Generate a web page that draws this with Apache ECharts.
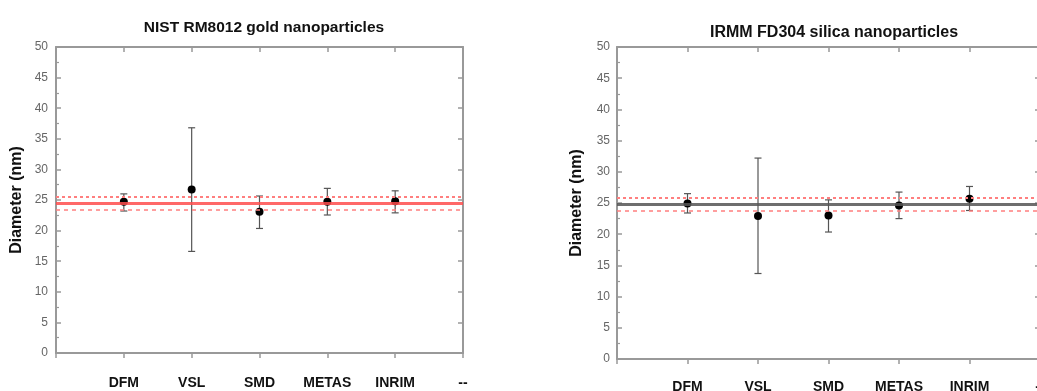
<!DOCTYPE html>
<html>
<head>
<meta charset="utf-8">
<script src="https://cdn.jsdelivr.net/npm/echarts@6/dist/echarts.min.js"></script>
<style>html,body{margin:0;padding:0;background:#fff}#c{width:1037px;height:391px}</style>
</head>
<body>
<div id="c"></div>
<script>
// ---- data ----
const categories = ['DFM', 'VSL', 'SMD', 'METAS', 'INRIM', '--'];
const titles = ['NIST RM8012 gold nanoparticles', 'IRMM FD304 silica nanoparticles'];
const yTicks = [0, 5, 10, 15, 20, 25, 30, 35, 40, 45, 50];

// NIST RM8012 gold
const goldMean = [24.7, 26.7, 23.1, 24.7, 24.8];
const goldLow  = [23.2, 16.6, 20.35, 22.55, 22.9];
const goldHigh = [26.0, 36.8, 25.65, 26.9, 26.5];
const goldRef = [24.45, 23.45, 25.55]; // reference, lower, upper

// IRMM FD304 silica
const silicaMean = [24.9, 22.9, 23.0, 24.6, 25.7];
const silicaLow  = [23.4, 13.7, 20.35, 22.5, 23.8];
const silicaHigh = [26.5, 32.2, 25.5, 26.75, 27.65];
const silicaRef = [24.8, 23.8, 25.8];

// ---- build ----
const chart = echarts.init(document.getElementById('c'));
const frameColor = '#999';
const labelFont = 'Liberation Sans, Arial, sans-serif';

function axesFor(gi, labelMargin, catMargin, nameGap) {
  const line = {show: true, onZero: false, lineStyle: {color: frameColor, width: 2}};
  const x = [{
    gridIndex: gi, type: 'value', min: 0, max: 6, interval: 1, position: 'bottom',
    axisLine: line,
    axisTick: {show: true, inside: false, length: 5, lineStyle: {color: frameColor, width: 1.5}},
    splitLine: {show: false},
    axisLabel: {
      margin: catMargin, color: '#111', fontWeight: 'bold', fontSize: 14, fontFamily: labelFont,
      formatter: v => (v >= 1 && v <= categories.length) ? categories[v - 1] : ''
    }
  }, {
    gridIndex: gi, type: 'value', min: 0, max: 6, interval: 1, position: 'top',
    axisLine: line,
    axisTick: {show: true, inside: true, length: 5, lineStyle: {color: frameColor, width: 1.5}},
    splitLine: {show: false}, axisLabel: {show: false}
  }];
  const y = [{
    gridIndex: gi, type: 'value', min: yTicks[0], max: yTicks[yTicks.length - 1], interval: yTicks[1] - yTicks[0],
    position: 'left',
    name: 'Diameter (nm)', nameLocation: 'middle', nameGap: nameGap,
    nameTextStyle: {color: '#111', fontWeight: 'bold', fontSize: 16, fontFamily: labelFont},
    axisLine: line,
    axisTick: {show: true, inside: true, length: 5, lineStyle: {color: frameColor, width: 1.5}},
    minorTick: {show: true, splitNumber: 2, length: 3, lineStyle: {color: frameColor, width: 1.2}},
    splitLine: {show: false},
    axisLabel: {margin: labelMargin, color: '#666', fontSize: 12, fontFamily: labelFont}
  }, {
    gridIndex: gi, type: 'value', min: yTicks[0], max: yTicks[yTicks.length - 1], interval: yTicks[1] - yTicks[0],
    position: 'right',
    axisLine: line,
    axisTick: {show: true, inside: true, length: 5, lineStyle: {color: frameColor, width: 1.5}},
    splitLine: {show: false}, axisLabel: {show: false}
  }];
  return {x, y};
}

function seriesFor(gi, mean, low, high, ref, refColor) {
  const xi = gi * 2, yi = gi * 2;
  const errData = mean.map((m, i) => [i + 1, low[i], high[i]]);
  const ptData = mean.map((m, i) => [i + 1, m]);
  return [{
    type: 'line', xAxisIndex: xi, yAxisIndex: yi, data: [], silent: true, z: 1,
    markLine: {
      silent: true, symbol: ['none', 'none'], label: {show: false}, animation: false,
      data: [
        {yAxis: ref[0], lineStyle: {color: refColor, width: 3, type: 'solid', opacity: 0.85}},
        {yAxis: ref[1], lineStyle: {color: '#ff7f7f', width: 1.5, type: [4, 4]}},
        {yAxis: ref[2], lineStyle: {color: '#ff7f7f', width: 2, type: [3, 3]}}
      ]
    }
  }, {
    type: 'custom', xAxisIndex: xi, yAxisIndex: yi, data: errData, z: 2, silent: true,
    renderItem: (params, api) => {
      const x = api.value(0);
      const lo = api.coord([x, api.value(1)]);
      const hi = api.coord([x, api.value(2)]);
      const cap = 3.5;
      const style = {stroke: '#555', lineWidth: 1.2};
      return {type: 'group', children: [
        {type: 'line', shape: {x1: lo[0], y1: lo[1], x2: hi[0], y2: hi[1]}, style},
        {type: 'line', shape: {x1: lo[0] - cap, y1: lo[1], x2: lo[0] + cap, y2: lo[1]}, style},
        {type: 'line', shape: {x1: hi[0] - cap, y1: hi[1], x2: hi[0] + cap, y2: hi[1]}, style}
      ]};
    }
  }, {
    type: 'scatter', xAxisIndex: xi, yAxisIndex: yi, data: ptData, z: 3,
    symbol: 'circle', symbolSize: 8, itemStyle: {color: '#000', opacity: 1}
  }];
}

const a0 = axesFor(0, 8, 23, 31);
const a1 = axesFor(1, 7, 21, 32);

chart.setOption({
  animation: false,
  backgroundColor: '#fff',
  title: [
    {text: titles[0], left: 259, top: 15, textAlign: 'center',
     textStyle: {fontSize: 15.5, fontWeight: 'bold', color: '#111', fontFamily: labelFont}},
    {text: titles[1], left: 829, top: 20, textAlign: 'center',
     textStyle: {fontSize: 16, fontWeight: 'bold', color: '#111', fontFamily: labelFont}}
  ],
  grid: [
    {left: 56, top: 47, width: 407, height: 306, outerBoundsMode: 'none', containLabel: false},
    {left: 617, top: 47, width: 423, height: 312, outerBoundsMode: 'none', containLabel: false}
  ],
  xAxis: [...a0.x, ...a1.x],
  yAxis: [...a0.y, ...a1.y],
  series: [
    ...seriesFor(0, goldMean, goldLow, goldHigh, goldRef, '#ff4d4d'),
    ...seriesFor(1, silicaMean, silicaLow, silicaHigh, silicaRef, '#555')
  ]
});
</script>
</body>
</html>
